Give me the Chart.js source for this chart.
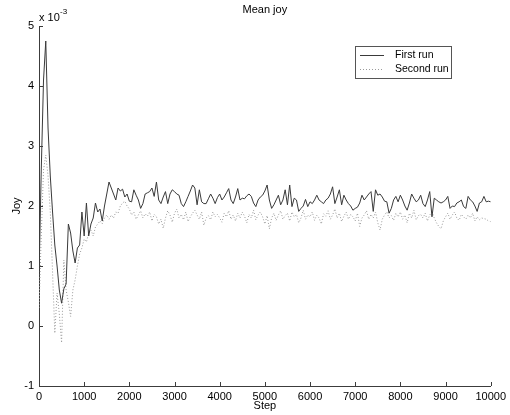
<!DOCTYPE html>
<html>
<head>
<meta charset="utf-8">
<script src="https://cdn.jsdelivr.net/npm/chart.js@4/dist/chart.umd.min.js"></script>
<style>
  html, body { margin: 0; padding: 0; background: #fff; }
  #wrap { width: 510px; height: 415px; position: relative; }
</style>
</head>
<body>
<div id="wrap"><canvas id="c" width="510" height="415"></canvas></div>
<script>
// Mean joy per step, two runs, values in units of 1e-3 (sampled every 50 steps)
const steps = Array.from({ length: 201 }, (_, i) => i * 50);

const firstRun = [
  0.82, 2.6, 4.1, 4.75, 3.3, 2.5, 1.9, 1.35, 1.0, 0.6,
  0.38, 0.62, 0.7, 1.7, 1.55, 1.25, 1.05, 1.3, 1.35, 1.9,
  1.5, 2.05, 1.5, 1.7, 1.8, 2.05, 1.9, 1.95, 1.75, 2.0,
  2.2, 2.4, 2.3, 2.2, 2.1, 2.3, 2.25, 2.28, 2.15, 2.2,
  2.08, 2.07, 2.27, 2.18, 2.1, 1.96, 2.04, 2.2, 2.22, 2.24,
  2.3, 2.16, 2.4, 2.1, 2.04, 2.15, 2.24, 2.04, 2.2, 2.27,
  2.24, 2.2, 2.18, 2.04, 1.99, 2.07, 2.16, 2.25, 2.35, 2.3,
  2.02, 2.27, 2.07, 2.04, 2.04, 2.12, 2.2, 2.13, 2.04, 2.14,
  2.2, 2.1, 2.15, 2.22, 2.29, 2.1, 2.04, 2.15, 2.29, 2.1,
  2.13, 2.12, 2.17, 2.2, 2.16, 2.05, 1.99, 2.1, 2.15, 2.18,
  2.25, 2.35, 2.1, 1.96, 2.02, 2.1, 2.18, 2.02, 2.1, 2.27,
  2.02, 2.35, 1.99, 2.13, 2.1, 1.91, 1.96, 2.0, 2.11, 1.99,
  2.07, 2.04, 2.1, 2.18, 2.1, 2.07, 2.04, 2.1, 2.13, 2.2,
  2.32, 2.04, 2.15, 2.27, 2.02, 2.18, 2.1, 2.04, 2.0, 1.93,
  1.96, 1.98, 2.05, 2.18, 2.1, 2.15, 2.2, 2.24, 1.91, 2.27,
  2.18, 2.2, 2.15, 2.08, 2.07, 1.88, 1.96, 2.1, 2.16, 2.07,
  2.18, 2.1, 2.0, 1.93, 2.05, 2.2, 2.13, 2.07, 2.1, 2.18,
  2.04, 1.99, 2.1, 2.24, 1.82, 2.13, 2.1, 2.07, 2.05, 2.07,
  2.1, 2.16, 1.96, 2.0, 1.99, 2.05, 2.07, 2.1, 1.99, 1.96,
  2.16, 2.1, 2.07, 2.0, 1.91, 2.05, 2.07, 2.16, 2.07, 2.08,
  2.07
];

const secondRun = [
  0.3, 1.5, 2.6, 2.85, 2.5, 1.9, 0.9, -0.12, 0.55, 0.2,
  -0.28, 1.1, 0.6, 0.4, 0.16, 0.6, 0.77, 1.0, 1.2, 1.3,
  1.45, 1.4, 1.55, 1.6, 1.5, 1.65, 1.7, 1.75, 1.7, 1.8,
  1.85, 1.78, 1.85, 1.8, 1.9, 1.88, 2.0, 2.05, 2.08, 2.0,
  1.95, 1.85, 1.9, 1.78, 1.85, 1.92, 1.8, 1.87, 1.83, 1.9,
  1.75, 1.86, 1.82, 1.7, 1.78, 1.63, 1.8, 1.92, 1.85, 1.73,
  1.88, 1.95, 1.8, 1.86, 1.77, 1.9, 1.74, 1.82, 1.88, 1.93,
  1.85, 1.78, 1.9, 1.68, 1.8, 1.84, 1.77, 1.9, 1.82, 1.86,
  1.8, 1.73, 1.88, 1.82, 1.92, 1.78, 1.85, 1.75, 1.88, 1.8,
  1.9, 1.83, 1.72, 1.86, 1.8, 1.93, 1.77, 1.85, 1.9, 1.82,
  1.7, 1.84, 1.62, 1.8, 1.88, 1.76, 1.85, 1.92, 1.78, 1.84,
  1.88, 1.75, 1.9, 1.82, 1.86, 1.72, 1.8, 1.93, 1.78, 1.85,
  1.82, 1.9, 1.76, 1.85, 1.8, 1.7, 1.87, 1.83, 1.92, 1.78,
  1.85, 1.95, 1.8, 1.88, 1.74, 1.83, 1.9, 1.78, 1.86, 1.82,
  1.75, 1.88, 1.66, 1.8, 1.85, 1.92, 1.78, 1.86, 1.8, 1.9,
  1.72, 1.6, 1.78, 1.85, 1.9, 1.8, 1.84, 1.76, 1.88, 1.82,
  1.9, 1.78, 1.85, 1.72, 1.88, 1.8, 1.93, 1.77, 1.84, 1.86,
  1.8, 1.88, 1.75, 1.85, 1.9, 1.8, 1.72, 1.66, 1.62, 1.75,
  1.82, 1.88, 1.78, 1.85, 1.9, 1.8, 1.76, 1.86, 1.82, 1.78,
  1.85, 1.8, 1.88, 1.75, 1.82, 1.77, 1.8, 1.79, 1.78, 1.75,
  1.74
];

const seriesNames = ['First run', 'Second run'];
const xTicks = [0, 1000, 2000, 3000, 4000, 5000, 6000, 7000, 8000, 9000, 10000];
const yTicks = [-1, 0, 1, 2, 3, 4, 5];

const FONT = 'Arial, "Liberation Sans", Helvetica, sans-serif';
const AXIS = '#3c3c3c';
const firstColor = '#3a3a3a';
const secondColor = '#9a9a9a';

// inward tick marks, titles, exponent and the boxed legend
const decorations = {
  id: 'decorations',
  afterDraw(chart) {
    const { ctx, chartArea: a, scales } = chart;
    ctx.save();
    ctx.strokeStyle = AXIS;
    ctx.lineWidth = 1;
    ctx.beginPath();
    xTicks.forEach((v) => {
      const x = Math.round(scales.x.getPixelForValue(v)) + 0.5;
      ctx.moveTo(x, a.bottom);
      ctx.lineTo(x, a.bottom - 4);
    });
    yTicks.forEach((v) => {
      const y = Math.round(scales.y.getPixelForValue(v)) + 0.5;
      ctx.moveTo(a.left, y);
      ctx.lineTo(a.left + 4, y);
    });
    ctx.stroke();

    ctx.fillStyle = '#000';
    ctx.font = '11px ' + FONT;
    ctx.textAlign = 'center';
    ctx.textBaseline = 'middle';
    const cx = (a.left + a.right) / 2;
    ctx.fillText('Mean joy', cx, 10);
    ctx.fillText('Step', cx, 406);

    ctx.save();
    ctx.translate(17, (a.top + a.bottom) / 2);
    ctx.rotate(-Math.PI / 2);
    ctx.fillText('Joy', 0, 0);
    ctx.restore();

    // axis multiplier
    ctx.textAlign = 'left';
    ctx.fillText('x 10', a.left, 18);
    ctx.font = '8px ' + FONT;
    ctx.fillText('-3', a.left + 21, 12);

    // legend
    const lx = 355, ly = 46, lw = 96, lh = 32;
    ctx.fillStyle = '#fff';
    ctx.fillRect(lx, ly, lw, lh);
    ctx.strokeStyle = '#555';
    ctx.strokeRect(lx + 0.5, ly + 0.5, lw, lh);
    const rows = [
      { color: firstColor, dash: [], y: ly + 9.5 },
      { color: secondColor, dash: [1, 2], y: ly + 23.5 },
    ];
    ctx.font = '10.5px ' + FONT;
    rows.forEach((r, i) => {
      ctx.strokeStyle = r.color;
      ctx.setLineDash(r.dash);
      ctx.beginPath();
      ctx.moveTo(lx + 5, r.y);
      ctx.lineTo(lx + 29, r.y);
      ctx.stroke();
      ctx.setLineDash([]);
      ctx.fillStyle = '#000';
      ctx.fillText(seriesNames[i], lx + 40, r.y);
    });
    ctx.restore();
  },
};

const toPoints = (vals) => steps.map((s, i) => ({ x: s, y: vals[i] }));

new Chart(document.getElementById('c'), {
  type: 'line',
  data: {
    datasets: [
      {
        label: seriesNames[0],
        data: toPoints(firstRun),
        borderColor: firstColor,
        borderWidth: 1,
        pointRadius: 0,
        tension: 0,
      },
      {
        label: seriesNames[1],
        data: toPoints(secondRun),
        borderColor: secondColor,
        borderWidth: 1,
        borderDash: [1, 2],
        pointRadius: 0,
        tension: 0,
      },
    ],
  },
  options: {
    responsive: false,
    animation: false,
    layout: { padding: { top: 26, right: 14, left: 0, bottom: 0 } },
    plugins: { legend: { display: false }, tooltip: { enabled: false } },
    scales: {
      x: {
        type: 'linear',
        min: 0, max: 10000,
        afterBuildTicks: (s) => { s.ticks = xTicks.map((v) => ({ value: v })); },
        afterFit: (s) => { s.height = 29; },
        grid: { display: false, drawTicks: false },
        border: { display: true, color: AXIS },
        ticks: {
          color: '#000', font: { size: 11, family: FONT }, padding: 4, maxRotation: 0,
          callback: (v) => String(v),
        },
      },
      y: {
        min: -1, max: 5,
        afterBuildTicks: (s) => { s.ticks = yTicks.map((v) => ({ value: v })); },
        afterFit: (s) => { s.width = 39; },
        grid: { display: false, drawTicks: false },
        border: { display: true, color: AXIS },
        ticks: {
          color: '#000', font: { size: 11, family: FONT }, padding: 5,
          callback: (v) => String(v),
        },
      },
    },
  },
  plugins: [decorations],
});
</script>
</body>
</html>
